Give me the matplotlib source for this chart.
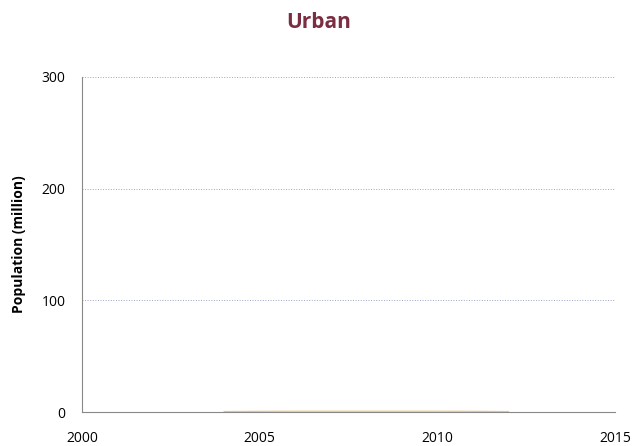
import matplotlib
matplotlib.use('Agg')
import matplotlib.pyplot as plt

# data
years = [2004, 2005, 2006, 2007, 2008, 2009, 2010, 2011, 2012]
urban = [0.4, 0.6, 0.7, 0.7, 0.7, 0.7, 0.7, 0.6, 0.4]
x_ticks = [2000, 2005, 2010, 2015]
y_ticks = [0, 100, 200, 300]

plt.rcParams['font.family'] = ['Open Sans', 'DejaVu Sans']

fig = plt.figure(figsize=(6.38, 4.46), dpi=100)
ax = fig.add_axes([82 / 638, 1 - 412 / 446, (615 - 82) / 638, (412 - 77) / 446])

ax.plot(years, urban, color='#EBC78E', linewidth=0.9)

ax.set_xlim(2000, 2015)
ax.set_ylim(0, 300)
ax.set_xticks(x_ticks)
ax.set_yticks(y_ticks)
ax.tick_params(length=0, labelsize=10)
ax.tick_params(axis='y', pad=12)
ax.tick_params(axis='x', pad=14)

ax.grid(axis='y', linestyle=':', color='#9AA3C7', linewidth=0.7)
ax.set_axisbelow(True)
for s in ['top', 'right']:
    ax.spines[s].set_visible(False)
ax.spines['left'].set_color('#888888')
ax.spines['bottom'].set_color('#888888')

ax.set_ylabel('Population (million)', fontsize=10, fontweight='bold', labelpad=11)
fig.text(0.5, 1 - 22 / 446, 'Urban', ha='center', va='center',
         fontsize=15, fontweight='bold', color='#7B2D42')

fig.savefig('out.png', dpi=100)
